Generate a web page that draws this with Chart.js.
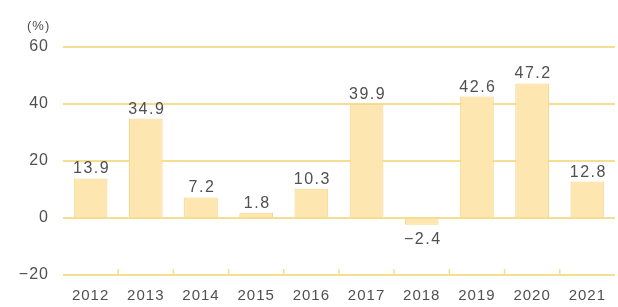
<!DOCTYPE html>
<html><head><meta charset="utf-8">
<script src="https://cdn.jsdelivr.net/npm/chart.js@4.4.0/dist/chart.umd.min.js"></script>
<style>html,body{margin:0;padding:0;background:#fff;}#wrap{width:618px;height:307px;position:relative;}</style>
</head><body><div id="wrap"><canvas id="c"></canvas></div>
<script>
const categories = ['2012','2013','2014','2015','2016','2017','2018','2019','2020','2021'];
const values = [13.9, 34.9, 7.2, 1.8, 10.3, 39.9, -2.4, 42.6, 47.2, 12.8];
const yTicks = [-20, 0, 20, 40, 60];
const unitLabel = '(%)';

const FONT = '"Liberation Sans", Arial, sans-serif';
const TEXT = '#505050';
const GRID = '#F6DE90';

const spacingPlugin = {
  id: 'spacing',
  beforeUpdate(chart) { chart.ctx.letterSpacing = '1px'; },
  beforeDraw(chart) { chart.ctx.letterSpacing = '1px'; }
};

const labelsPlugin = {
  id: 'labels',
  afterDatasetsDraw(chart) {
    const ctx = chart.ctx;
    const meta = chart.getDatasetMeta(0);
    ctx.save();
    ctx.letterSpacing = '1.5px';
    ctx.font = '16px ' + FONT;
    ctx.fillStyle = TEXT;
    ctx.textAlign = 'center';
    meta.data.forEach((bar, i) => {
      const v = values[i];
      const txt = v < 0 ? '\u2212' + Math.abs(v).toFixed(1) : v.toFixed(1);
      if (v >= 0) { ctx.textBaseline = 'alphabetic'; ctx.fillText(txt, bar.x + 1, bar.y - 5); }
      else { ctx.textBaseline = 'alphabetic'; ctx.fillText(txt, bar.x + 1, bar.y + 19); }
    });
    // unit label
    ctx.letterSpacing = '1px';
    ctx.font = '13px ' + FONT;
    ctx.textAlign = 'left';
    ctx.textBaseline = 'middle';
    ctx.fillText(unitLabel, 27, 26);
    // upward tick marks on x axis at category boundaries
    const xs = chart.scales.x, ys = chart.scales.y;
    const yb = ys.getPixelForValue(yTicks[0]);
    ctx.strokeStyle = GRID; ctx.lineWidth = 1.5;
    for (let i = 1; i < categories.length; i++) {
      const x = (xs.getPixelForValue(i - 1) + xs.getPixelForValue(i)) / 2;
      ctx.beginPath(); ctx.moveTo(x, yb); ctx.lineTo(x, yb - 6); ctx.stroke();
    }
    ctx.restore();
  }
};

new Chart(document.getElementById('c'), {
  type: 'bar',
  data: { labels: categories, datasets: [{
    data: values,
    backgroundColor: '#FDE6B0',
    borderColor: '#F8D486',
    borderWidth: 1,
    barPercentage: 0.61,
    categoryPercentage: 1.0
  }]},
  options: {
    responsive: true, maintainAspectRatio: false, animation: false,
    layout: { padding: { top: 47, left: 0, right: 0, bottom: 0 } },
    plugins: { legend: { display: false }, tooltip: { enabled: false } },
    scales: {
      x: {
        grid: { display: false, drawTicks: false },
        border: { display: false },
        ticks: { color: TEXT, font: { family: FONT, size: 15 }, padding: 12, maxRotation: 0 },
        afterFit(s) { s.height = 32; }
      },
      y: {
        min: -20, max: 60,
        afterBuildTicks(s) { s.ticks = yTicks.map(v => ({ value: v })); },
        grid: { color: GRID, lineWidth: 2, drawTicks: false },
        border: { display: false },
        ticks: { color: TEXT, font: { family: FONT, size: 16 }, padding: 14,
          callback: v => v < 0 ? '\u2212' + Math.abs(v) : String(v) },
        afterFit(s) { s.width = 63; }
      }
    }
  },
  plugins: [spacingPlugin, labelsPlugin]
});
</script></body></html>
